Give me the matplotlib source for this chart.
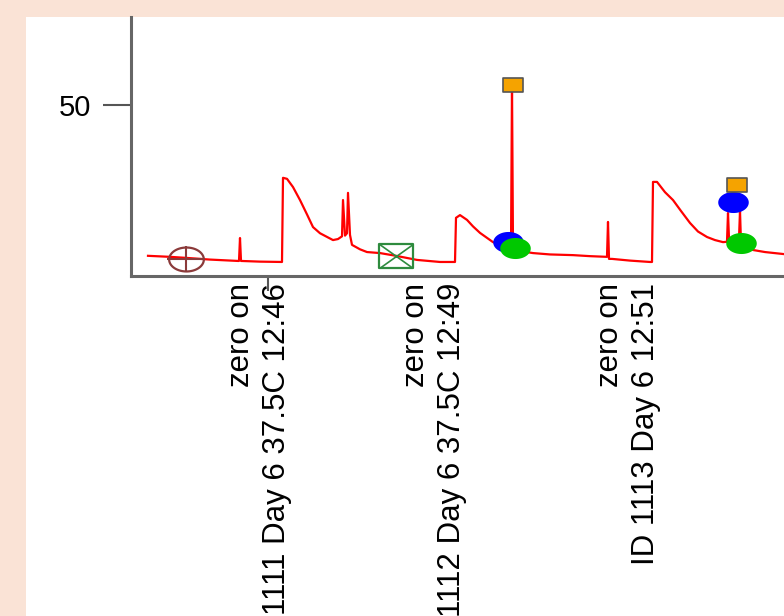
import numpy as np
import matplotlib.pyplot as plt
from matplotlib.patches import Rectangle
from matplotlib.path import Path
from matplotlib.transforms import blended_transform_factory

# trace: time (s) and signal
t = [17, 39, 55, 79, 107, 108, 109, 110, 129, 151, 152, 156, 162, 169, 176, 182,
     189, 202, 207, 211, 212, 214, 216, 217, 219, 221, 229, 236, 249, 265, 286,
     309, 324, 325, 329, 336, 342, 349, 362, 374, 380, 381, 382, 389, 402, 419,
     442, 459, 476, 477, 478, 481, 499, 519, 521, 522, 526, 534, 542, 550, 559,
     567, 576, 584, 592, 596, 597, 598, 603, 608, 609, 610, 616, 622, 634, 653]
sig = [5.9, 5.6, 5.3, 4.8, 4.4, 4.4, 11.1, 4.4, 4.2, 4.1, 28.7, 28.4, 26.0, 22.2,
       18.0, 14.3, 12.5, 10.5, 10.8, 11.6, 22.2, 11.8, 12.5, 24.3, 12.0, 9.1, 7.8,
       7.0, 6.7, 5.9, 4.7, 4.1, 4.1, 17.0, 17.8, 16.4, 14.5, 12.6, 9.9, 8.6, 8.3,
       55.8, 8.3, 7.3, 6.7, 6.3, 6.1, 5.8, 5.6, 15.8, 5.0, 5.0, 4.5, 4.1, 4.1, 27.5,
       27.5, 24.5, 22.2, 19.0, 15.5, 13.0, 11.4, 10.5, 9.9, 10.0, 18.4, 11.0, 11.0,
       11.0, 19.0, 9.6, 8.3, 7.6, 7.0, 6.4]

# event markers
start_t, start_v = [55], [5.0]
zero_t, zero_v = [265], [5.9]
blue_t, blue_v = [377, 602], [9.9, 21.6]
green_t, green_v = [384, 610], [8.2, 9.6]
peak_t, peak_v = [382, 606], [55.8, 26.6]

# event labels under the axis (as much as the reference shows)
label_t = [128, 303, 497]
labels = ["zero on\n1111 Day 6 37.5C 12:46",
          "zero on\n1112 Day 6 37.5C 12:49",
          "zero on\nID 1113 Day 6 12:51"]

plt.rcParams['font.family'] = ['Liberation Sans', 'DejaVu Sans']

# wide markers (the screenshot is stretched sideways)
ang = np.linspace(0, 2 * np.pi, 60)
oval = Path(np.column_stack([1.45 * np.cos(ang), np.sin(ang)]), closed=True)
wbox = Path([(-1.4, -1), (1.4, -1), (1.4, 1), (-1.4, 1), (-1.4, -1)], closed=True)
wbox_x = Path([(-1.4, -1), (1.4, 1), (-1.4, 1), (1.4, -1)],
              [Path.MOVETO, Path.LINETO, Path.MOVETO, Path.LINETO])
wplus = Path([(-1.6, 0), (1.6, 0), (0, -1.1), (0, 1.1)],
             [Path.MOVETO, Path.LINETO, Path.MOVETO, Path.LINETO])

fig = plt.figure(figsize=(7.84, 6.16), dpi=100, facecolor='#fae3d6')
fig.patches.append(Rectangle((26 / 784, 0), 1, 1 - 17 / 616, transform=fig.transFigure,
                             facecolor='white', edgecolor='none', zorder=-1))

ax = fig.add_axes([131 / 784, 340 / 616, 653 / 784, 259 / 616])
ax.set_facecolor('none')
ax.set_xlim(0, 653)
ax.set_ylim(0, 75.7)

ax.plot(t, sig, color='#ff0000', lw=1.6, zorder=2)

ax.plot(start_t, start_v, marker=oval, ls='none', ms=25, mfc='none', mec='#8b3a3a', mew=1.6, zorder=3)
ax.plot(start_t, start_v, marker=wplus, ls='none', ms=27, mec='#8b3a3a', mew=1.5, zorder=3)
ax.plot(zero_t, zero_v, marker=wbox, ls='none', ms=24, mfc='none', mec='#2e8b3e', mew=1.6, zorder=3)
ax.plot(zero_t, zero_v, marker=wbox_x, ls='none', ms=24, mec='#2e8b3e', mew=1.2, zorder=3)
ax.plot(blue_t, blue_v, marker=oval, ls='none', ms=22, color='#0000ff', mec='none', zorder=4)
ax.plot(green_t, green_v, marker=oval, ls='none', ms=22, color='#00c800', mec='none', zorder=5)
ax.plot(peak_t, peak_v, marker=wbox, ls='none', ms=14, color='#f5a300', mec='#555555', mew=1.2, zorder=6)

for s in ['top', 'right']:
    ax.spines[s].set_visible(False)
for s in ['left', 'bottom']:
    ax.spines[s].set_color('#666666')
    ax.spines[s].set_linewidth(2.2)

ax.set_yticks([50])
ax.set_yticklabels(['50'], fontsize=21)
ax.tick_params(axis='y', length=20, width=1.5, color='#555555', pad=9)
ax.set_xticks([137])
ax.set_xticklabels([''])
ax.tick_params(axis='x', length=11, width=1.5, color='#555555')

trans = blended_transform_factory(ax.transData, ax.transAxes)
for x, s in zip(label_t, labels):
    ax.text(x, -0.027, s, transform=trans, rotation=90, ha='center', va='top',
            multialignment='right', fontsize=22.5, linespacing=1.25, clip_on=False)

fig.savefig('out.png', dpi=100, facecolor=fig.get_facecolor())
